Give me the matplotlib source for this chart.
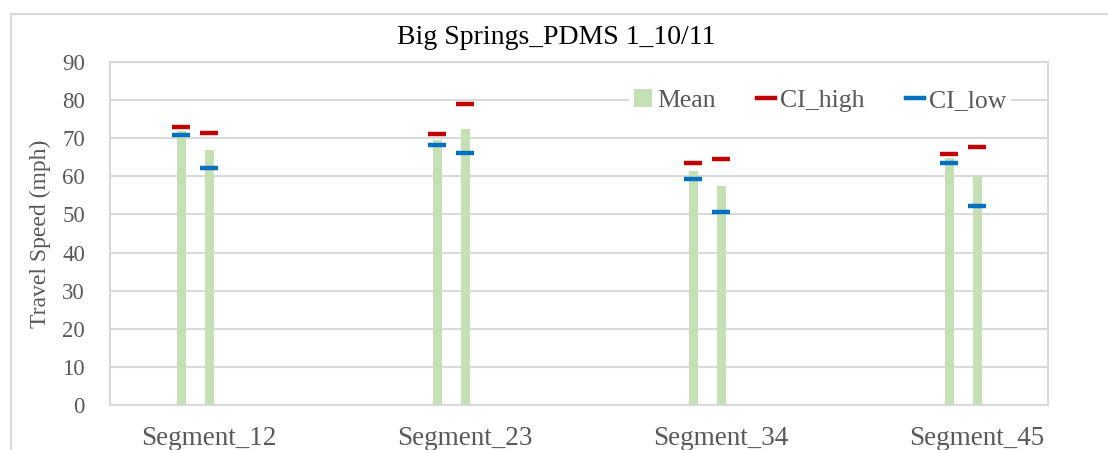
import numpy as np
import matplotlib
matplotlib.use("Agg")
import matplotlib.pyplot as plt
from matplotlib.lines import Line2D
from matplotlib.patches import Patch, Rectangle

# -----------------------------------------------------------------------
# Data
# -----------------------------------------------------------------------
segments = ["Segment_12", "Segment_23", "Segment_34", "Segment_45"]
mean_a    = [71.9, 69.6, 61.4, 64.7]
mean_b    = [66.9, 72.5, 57.5, 60.0]
ci_high_a = [73.0, 71.2, 63.6, 65.9]
ci_high_b = [71.4, 79.1, 64.5, 67.8]
ci_low_a  = [70.9, 68.2, 59.4, 63.6]
ci_low_b  = [62.3, 66.1, 50.7, 52.3]

GREEN = "#C5E0B4"
RED   = "#C00000"
BLUE  = "#0070C0"
GRID  = "#D9D9D9"
TEXT  = "#595959"

plt.rcParams["font.family"] = ["Liberation Serif", "DejaVu Serif"]

fig = plt.figure(figsize=(11.08, 4.5), dpi=100, facecolor="white")

# outer chart border (cropped on right and bottom)
fig.patches.append(Rectangle((11 / 1108, -0.1), 1.2, 1 - 14 / 450 + 0.1,
                             transform=fig.transFigure, fill=False,
                             edgecolor=GRID, linewidth=1.5))

ax = fig.add_axes([110 / 1108, 45 / 450, 938 / 1108, 343 / 450])

x = np.arange(len(segments))
off = 28 / 256
w = 9 / 256

ax.bar(x - off, mean_a, width=w, color=GREEN, zorder=2)
ax.bar(x, mean_b, width=w, color=GREEN, zorder=2)

mk = dict(linestyle="none", marker="_", markersize=12.5, markeredgewidth=3.2, zorder=3)
ax.plot(x - off, ci_high_a, color=RED, **mk)
ax.plot(x, ci_high_b, color=RED, **mk)
ax.plot(x - off, ci_low_a, color=BLUE, **mk)
ax.plot(x, ci_low_b, color=BLUE, **mk)

ax.set_xlim(-0.387, 3.277)
ax.set_ylim(0, 90)
ax.set_yticks(range(0, 91, 10))
ax.set_xticks(x)
ax.set_xticklabels(segments, fontsize=19.5, color=TEXT)
ax.tick_params(axis="x", length=0, pad=15)
ax.tick_params(axis="y", length=0, pad=18, labelsize=16.5, labelcolor=TEXT)

ax.grid(axis="y", color=GRID, linewidth=1.5, zorder=0)
ax.set_axisbelow(True)
for spine in ax.spines.values():
    spine.set_color(GRID)
    spine.set_linewidth(1.5)

ax.set_ylabel("Travel Speed (mph)", fontsize=17, color=TEXT, labelpad=8)
fig.text(0.502, 1 - 38 / 450, "Big Springs_PDMS 1_10/11", ha="center", va="center",
         fontsize=20, color="black")

handles = [
    Patch(facecolor=GREEN, edgecolor="none"),
    Line2D([], [], color=RED, linewidth=3.2),
    Line2D([], [], color=BLUE, linewidth=3.2),
]
leg = ax.legend(handles, ["Mean", "CI_high", "CI_low"], ncol=3, loc="center",
                bbox_to_anchor=(0.757, 0.889), frameon=True, fancybox=False,
                edgecolor="none", facecolor="white", framealpha=1,
                fontsize=18.5, handlelength=0.7, handletextpad=0.2,
                columnspacing=1.6, borderpad=0.2)
for t in leg.get_texts():
    t.set_color(TEXT)

plt.savefig("out.png", dpi=100, facecolor="white")
plt.close(fig)
